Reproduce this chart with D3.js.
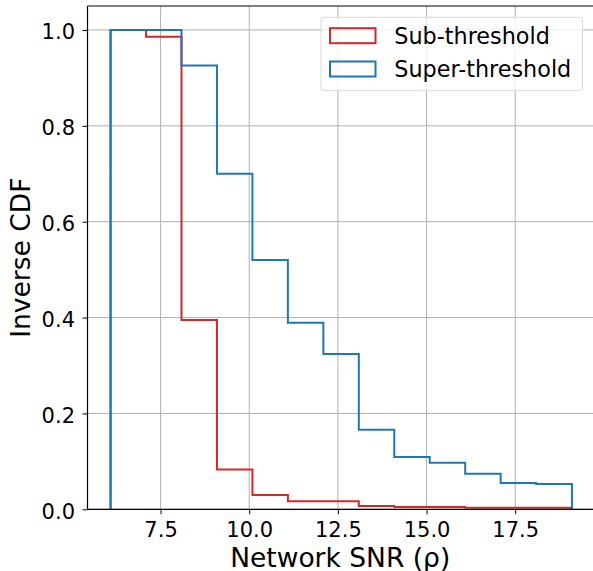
<!DOCTYPE html>
<html>
<head>
<meta charset="utf-8">
<script src="https://cdn.jsdelivr.net/npm/d3@7"></script>
<style>
  html, body { margin: 0; padding: 0; background: #fff; }
  svg { display: block; }
  text { font-family: "DejaVu Sans", sans-serif; fill: #000; }
</style>
</head>
<body>
<svg id="chart" width="593" height="571"></svg>
<script>
// ---- data ----
const binEdges = [6.09, 7.09, 8.09, 9.09, 10.09, 11.09, 12.09, 13.09, 14.09, 15.09, 16.09, 17.09, 18.09, 19.10];
const subThreshold = [1.0, 0.986, 0.395, 0.083, 0.030, 0.017, 0.017, 0.007, 0.005, 0.005, 0.003, 0.003, 0.003];
const superThreshold = [1.0, 1.0, 0.926, 0.700, 0.520, 0.389, 0.324, 0.166, 0.109, 0.097, 0.074, 0.055, 0.053];
const seriesNames = ["Sub-threshold", "Super-threshold"];
const seriesColors = ["#d62728", "#1f77b4"];
const xTicks = [7.5, 10.0, 12.5, 15.0, 17.5];
const yTicks = [0.0, 0.2, 0.4, 0.6, 0.8, 1.0];
const xLabel = "Network SNR (ρ)";
const yLabel = "Inverse CDF";

// ---- layout ----
const plot = { left: 87.5, right: 595, top: 6, bottom: 509.3 };
const svg = d3.select("#chart");

const xMin = binEdges[0], xMax = binEdges[binEdges.length - 1];
const xPad = (xMax - xMin) * 0.05;
const x = d3.scaleLinear().domain([xMin - xPad, xMax + xPad]).range([plot.left, plot.right]);
const y = d3.scaleLinear().domain([0, 1.05]).range([plot.bottom, plot.top]);

// grid
const grid = svg.append("g");
grid.selectAll("line.gx").data(xTicks).enter().append("line")
  .attr("x1", d => x(d)).attr("x2", d => x(d))
  .attr("y1", plot.top).attr("y2", plot.bottom)
  .attr("stroke", "#b0b0b0").attr("stroke-width", 1);
grid.selectAll("line.gy").data(yTicks).enter().append("line")
  .attr("x1", plot.left).attr("x2", plot.right)
  .attr("y1", d => y(d)).attr("y2", d => y(d))
  .attr("stroke", "#b0b0b0").attr("stroke-width", 1);

// step histograms
function stepPoints(vals) {
  const pts = [[binEdges[0], 0]];
  vals.forEach((v, i) => { pts.push([binEdges[i], v]); pts.push([binEdges[i + 1], v]); });
  pts.push([binEdges[binEdges.length - 1], 0]);
  return pts;
}
const line = d3.line().x(d => x(d[0])).y(d => y(d[1]));
[subThreshold, superThreshold].forEach((vals, i) => {
  svg.append("path")
    .attr("d", line(stepPoints(vals)))
    .attr("fill", "none")
    .attr("stroke", seriesColors[i])
    .attr("stroke-width", 2)
    .attr("stroke-linejoin", "miter");
});

// axes
const xAxis = d3.axisBottom(x).tickValues(xTicks).tickFormat(d3.format(".1f")).tickSize(5).tickPadding(8);
const yAxis = d3.axisLeft(y).tickValues(yTicks).tickFormat(d3.format(".1f")).tickSize(5).tickPadding(8);
const gx = svg.append("g").attr("transform", `translate(0,${plot.bottom})`).call(xAxis);
const gy = svg.append("g").attr("transform", `translate(${plot.left},0)`).call(yAxis);
[gx, gy].forEach(g => {
  g.select(".domain").remove();
  g.selectAll(".tick line").attr("stroke", "#000").attr("stroke-width", 1);
  g.selectAll(".tick text").style("font-family", "DejaVu Sans").style("font-size", "21px").attr("fill", "#000");
});
gx.selectAll(".tick text").attr("dy", null).attr("y", 28);
gy.selectAll(".tick text").attr("dy", null).attr("y", 9).attr("x", -12.5);

// spines
svg.append("line").attr("x1", plot.left).attr("x2", plot.left).attr("y1", plot.top).attr("y2", plot.bottom)
  .attr("stroke", "#000").attr("stroke-width", 1.2);
svg.append("line").attr("x1", plot.left).attr("x2", plot.right).attr("y1", plot.bottom).attr("y2", plot.bottom)
  .attr("stroke", "#000").attr("stroke-width", 1.2);
svg.append("line").attr("x1", plot.left).attr("x2", plot.right).attr("y1", plot.top).attr("y2", plot.top)
  .attr("stroke", "#000").attr("stroke-width", 1.2);

// axis labels
svg.append("text").attr("x", (plot.left + plot.right) / 2 - 1).attr("y", 567)
  .attr("text-anchor", "middle").style("font-size", "26.5px").text(xLabel);
svg.append("text").attr("transform", `translate(30,${(plot.top + plot.bottom) / 2}) rotate(-90)`)
  .attr("text-anchor", "middle").style("font-size", "26.5px").text(yLabel);

// legend
const lg = svg.append("g");
lg.append("rect").attr("x", 321).attr("y", 17.3).attr("width", 261.5).attr("height", 73.4)
  .attr("rx", 3).attr("fill", "#fff").attr("fill-opacity", 0.8)
  .attr("stroke", "#d9d9d9").attr("stroke-width", 1);
const legendRows = [35.7, 69];
seriesNames.forEach((name, i) => {
  lg.append("rect").attr("x", 330).attr("y", legendRows[i] - 7.5).attr("width", 45.5).attr("height", 15)
    .attr("fill", "none").attr("stroke", seriesColors[i]).attr("stroke-width", 2);
  lg.append("text").attr("x", 394.3).attr("y", legendRows[i] + 8.2)
    .style("font-size", "22.3px").text(name);
});
</script>
</body>
</html>
